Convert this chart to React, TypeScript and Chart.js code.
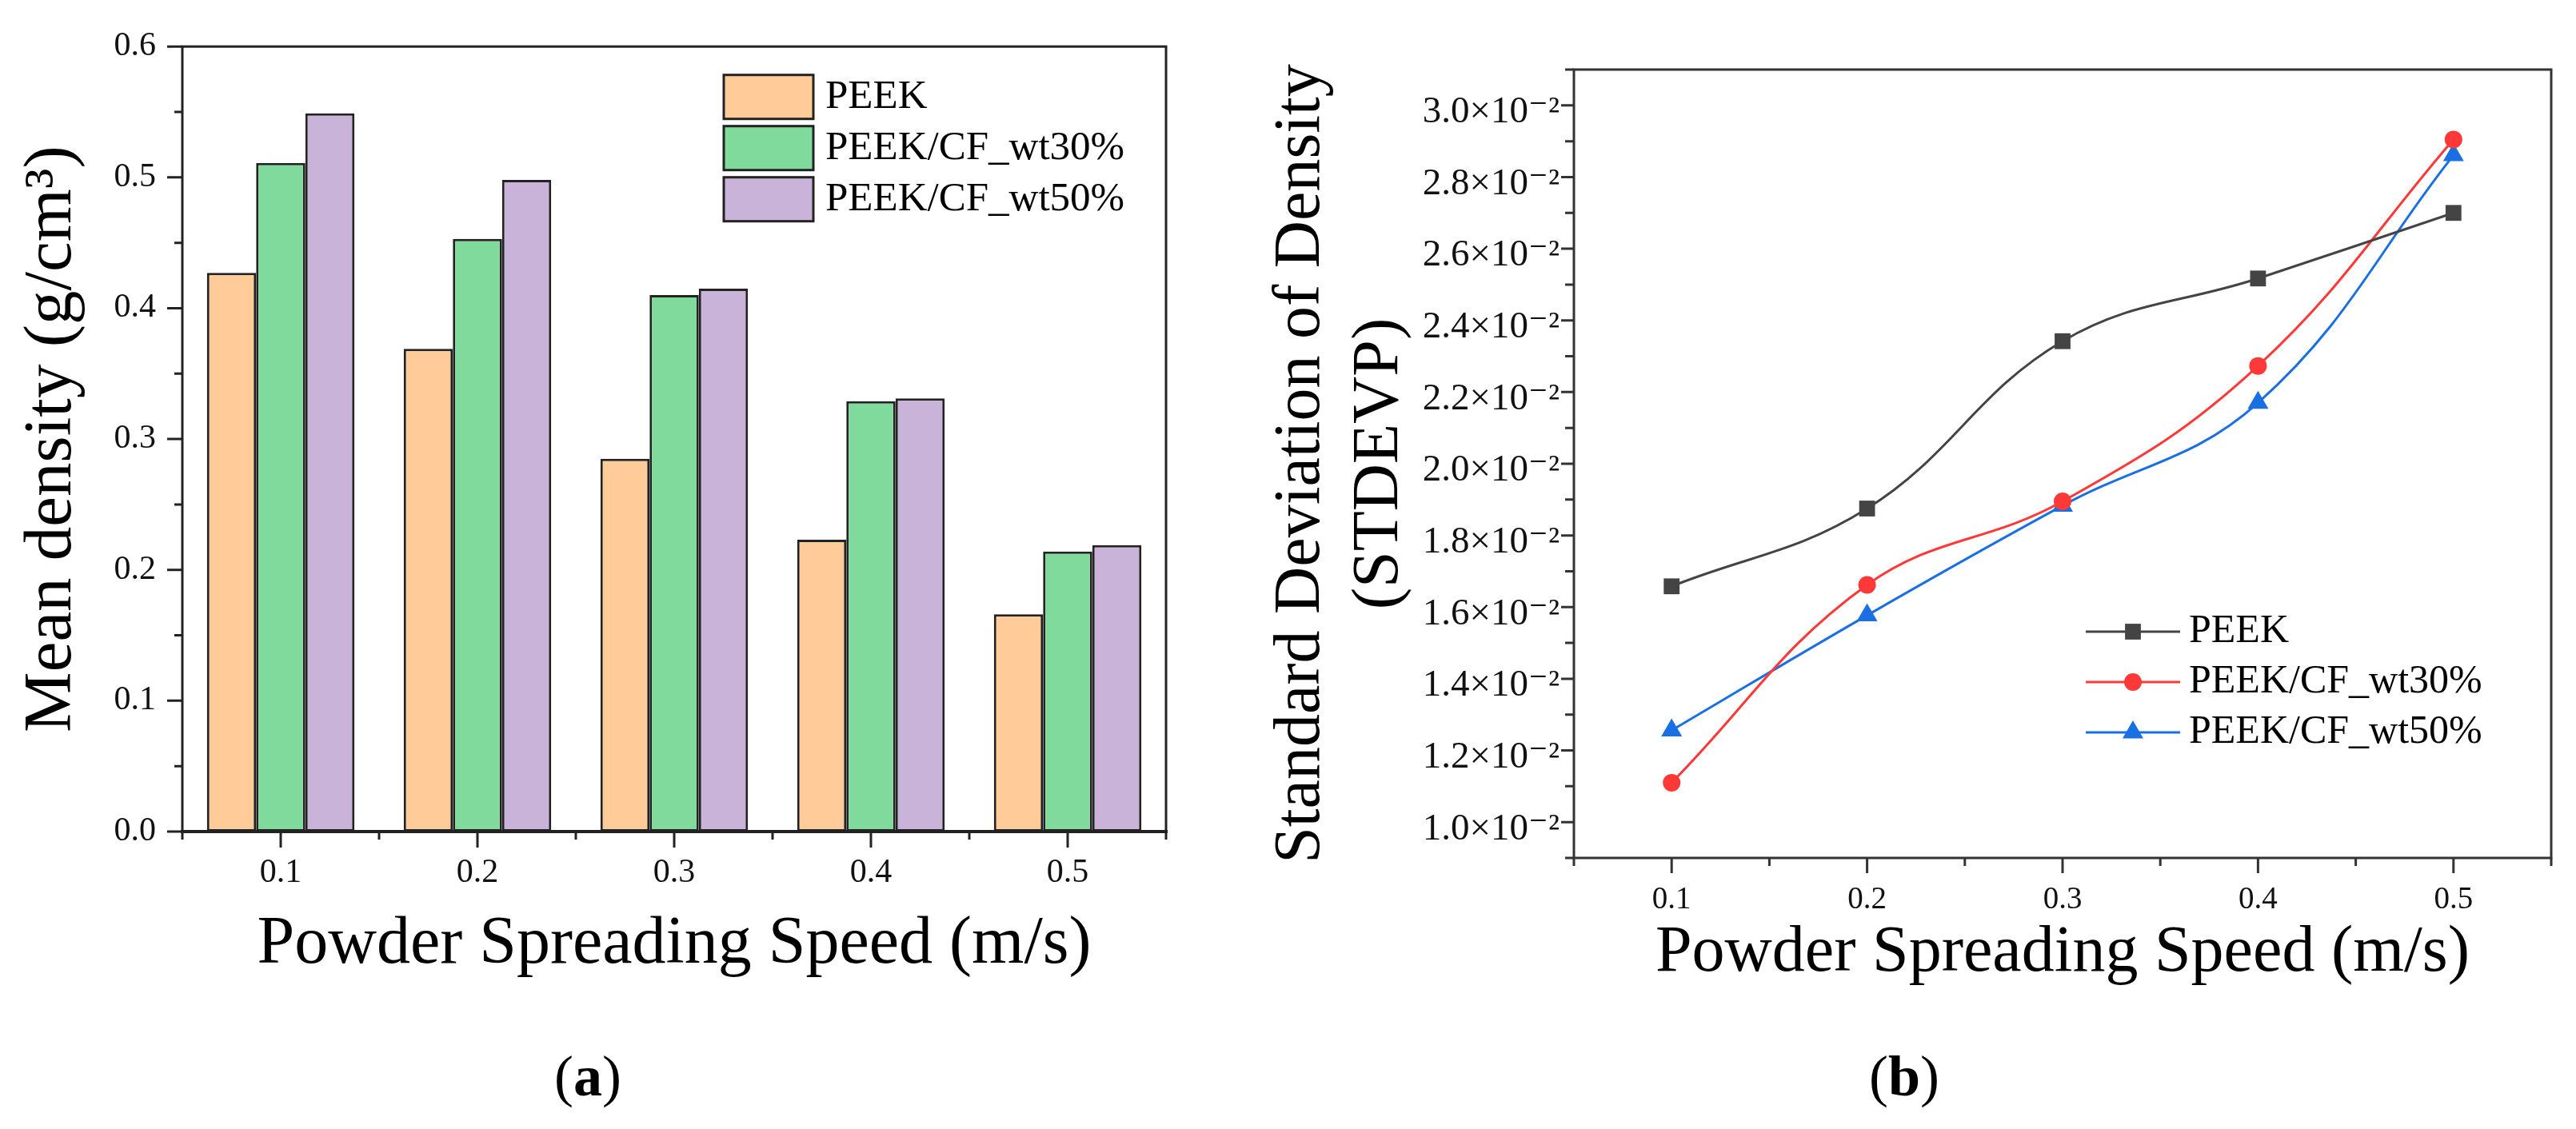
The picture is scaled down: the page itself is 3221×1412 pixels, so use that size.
import React, { useEffect, useRef } from 'react';
import { Chart, registerables } from 'chart.js';

Chart.register(...registerables);

const FONT = "'Liberation Serif', 'Times New Roman', 'DejaVu Serif', serif";

// ---------- Panel (a): mean density bars ----------
const SPEED_LABELS = ['0.1', '0.2', '0.3', '0.4', '0.5'];
const SERIES_NAMES = ['PEEK', 'PEEK/CF_wt30%', 'PEEK/CF_wt50%'];
const MEAN_PEEK = [0.427, 0.369, 0.285, 0.223, 0.166];
const MEAN_CF30 = [0.511, 0.453, 0.410, 0.329, 0.214];
const MEAN_CF50 = [0.549, 0.498, 0.415, 0.331, 0.219];
const MEAN_Y_TICKS = [0, 0.1, 0.2, 0.3, 0.4, 0.5, 0.6];

// ---------- Panel (b): standard deviation lines ----------
const SPEEDS = [0.1, 0.2, 0.3, 0.4, 0.5];
const STD_PEEK = [0.01658, 0.01875, 0.02342, 0.02517, 0.027];
const STD_CF30 = [0.0111, 0.01662, 0.01895, 0.02273, 0.02905];
const STD_CF50 = [0.01256, 0.01577, 0.01883, 0.0217, 0.02861];
const STD_Y_TICKS = [0.01, 0.012, 0.014, 0.016, 0.018, 0.02, 0.022, 0.024, 0.026, 0.028, 0.03];
const STD_X_TICKS = [0.1, 0.2, 0.3, 0.4, 0.5];

const BAR_COLORS = ['#FFCC99', '#80DA9B', '#C9B3D8'];
const LINE_COLORS = ['#444444', '#FF3838', '#1A6FE3'];
const LINE_MARKERS = ['rect', 'circle', 'triangle'];
const LINE_MARKER_RADII = [14, 11, 15];

function minorsBetween(major: number[], lo: number, hi: number): number[] {
  const out: number[] = [];
  if (major.length < 2) return out;
  const step = major[1] - major[0];
  const eps = step * 1e-6;
  const first = major[0] - step / 2;
  if (first >= lo - eps) out.push(first);
  for (let i = 0; i < major.length - 1; i++) out.push((major[i] + major[i + 1]) / 2);
  const last = major[major.length - 1] + step / 2;
  if (last <= hi + eps) out.push(last);
  return out;
}

const axisFramePlugin = {
  id: 'axisFrame',
  afterDatasetsDraw(chart: any, _args: any, o: any) {
    const { ctx, chartArea: a, scales } = chart;
    const xs = scales.x;
    const ys = scales.y;
    ctx.save();
    ctx.strokeStyle = o.color;
    ctx.lineCap = 'square';
    ctx.lineWidth = o.lineWidth;
    ctx.strokeRect(a.left, a.top, a.right - a.left, a.bottom - a.top);
    if (o.bottomWidth) {
      ctx.lineWidth = o.bottomWidth;
      ctx.beginPath();
      ctx.moveTo(a.left, a.bottom);
      ctx.lineTo(a.right, a.bottom);
      ctx.stroke();
    }
    ctx.lineCap = 'butt';
    ctx.lineWidth = o.tickWidth;
    ctx.beginPath();
    const yMajor = ys.ticks.map((t: any) => t.value);
    for (const v of yMajor) {
      const p = ys.getPixelForValue(v);
      ctx.moveTo(a.left, p);
      ctx.lineTo(a.left - o.yMajor, p);
    }
    for (const v of minorsBetween(yMajor, ys.min, ys.max)) {
      const p = ys.getPixelForValue(v);
      ctx.moveTo(a.left, p);
      ctx.lineTo(a.left - o.yMinor, p);
    }
    let xMajorPx: number[] = [];
    let xMinorPx: number[] = [];
    if (xs.type === 'category') {
      const n = chart.data.labels.length;
      for (let i = 0; i < n; i++) xMajorPx.push(xs.getPixelForValue(i));
      const w = n > 1 ? xMajorPx[1] - xMajorPx[0] : a.right - a.left;
      xMinorPx = [xMajorPx[0] - w / 2, ...xMajorPx.map((p) => p + w / 2)];
    } else {
      const xMajor = xs.ticks.map((t: any) => t.value);
      xMajorPx = xMajor.map((v: number) => xs.getPixelForValue(v));
      xMinorPx = minorsBetween(xMajor, xs.min, xs.max).map((v) => xs.getPixelForValue(v));
    }
    for (const p of xMajorPx) {
      ctx.moveTo(p, a.bottom);
      ctx.lineTo(p, a.bottom + o.xMajor);
    }
    for (const p of xMinorPx) {
      ctx.moveTo(p, a.bottom);
      ctx.lineTo(p, a.bottom + o.xMinor);
    }
    ctx.stroke();
    ctx.restore();
  },
};

function drawMarker(ctx: CanvasRenderingContext2D, style: string, x: number, y: number, r: number, color: string) {
  ctx.fillStyle = color;
  ctx.beginPath();
  if (style === 'rect') {
    const s = r * Math.SQRT1_2;
    ctx.rect(x - s, y - s, 2 * s, 2 * s);
  } else if (style === 'triangle') {
    ctx.moveTo(x, y - r);
    ctx.lineTo(x + 0.866 * r, y + 0.5 * r);
    ctx.lineTo(x - 0.866 * r, y + 0.5 * r);
    ctx.closePath();
  } else {
    ctx.arc(x, y, r, 0, Math.PI * 2);
  }
  ctx.fill();
}

const insetLegendPlugin = {
  id: 'insetLegend',
  afterDraw(chart: any, _args: any, o: any) {
    const { ctx, chartArea: a } = chart;
    ctx.save();
    ctx.font = `${o.fontSize}px ${FONT}`;
    ctx.textBaseline = 'middle';
    ctx.textAlign = 'left';
    chart.data.datasets.forEach((ds: any, i: number) => {
      const cy = a.top + o.top + i * o.rowGap;
      const x0 = a.left + o.left;
      if (o.kind === 'box') {
        ctx.fillStyle = ds.backgroundColor;
        ctx.fillRect(x0, cy - o.boxH / 2, o.boxW, o.boxH);
        ctx.strokeStyle = ds.borderColor;
        ctx.lineWidth = ds.borderWidth;
        ctx.strokeRect(x0, cy - o.boxH / 2, o.boxW, o.boxH);
      } else {
        ctx.strokeStyle = ds.borderColor;
        ctx.lineWidth = ds.borderWidth;
        ctx.beginPath();
        ctx.moveTo(x0, cy);
        ctx.lineTo(x0 + o.boxW, cy);
        ctx.stroke();
        drawMarker(ctx, ds.pointStyle, x0 + o.boxW / 2, cy, ds.pointRadius, ds.pointBackgroundColor);
      }
      ctx.fillStyle = '#000';
      ctx.fillText(ds.label, x0 + o.boxW + o.gap, cy);
    });
    ctx.restore();
  },
};

function barConfig(): any {
  const series = [MEAN_PEEK, MEAN_CF30, MEAN_CF50];
  return {
    type: 'bar',
    data: {
      labels: SPEED_LABELS,
      datasets: series.map((vals, i) => ({
        label: SERIES_NAMES[i],
        data: vals,
        backgroundColor: BAR_COLORS[i],
        borderColor: '#222222',
        borderWidth: 3,
        borderSkipped: false,
        categoryPercentage: 0.75,
        barPercentage: 1.0,
      })),
    },
    options: {
      responsive: true,
      maintainAspectRatio: false,
      animation: false,
      events: [],
      layout: { padding: { left: 0, top: 47, right: 42, bottom: 60 } },
      scales: {
        x: {
          grid: { display: false, drawTicks: false },
          border: { display: false },
          ticks: { font: { family: FONT, size: 42 }, color: '#111', padding: 27, maxRotation: 0 },
          title: {
            display: true,
            text: 'Powder Spreading Speed (m/s)',
            font: { family: FONT, size: 84, lineHeight: 1 },
            color: '#000',
            padding: { top: 0, bottom: 16 },
          },
          afterFit: (s: any) => { s.height = 200; },
        },
        y: {
          min: 0,
          max: 0.6,
          grid: { display: false, drawTicks: false },
          border: { display: false },
          afterBuildTicks: (s: any) => { s.ticks = MEAN_Y_TICKS.map((v) => ({ value: v })); },
          ticks: {
            font: { family: FONT, size: 42 },
            color: '#111',
            padding: 33,
            callback: (v: any) => Number(v).toFixed(1),
          },
          title: {
            display: true,
            text: 'Mean density (g/cm³)',
            font: { family: FONT, size: 85, lineHeight: 1 },
            color: '#000',
            padding: { top: 23, bottom: 0 },
          },
          afterFit: (s: any) => { s.width = 228; },
        },
      },
      plugins: {
        legend: { display: false },
        tooltip: { enabled: false },
        axisFrame: { color: '#222', lineWidth: 3, bottomWidth: 4, tickWidth: 3, yMajor: 19, yMinor: 10, xMajor: 20, xMinor: 10 },
        insetLegend: { kind: 'box', left: 677, top: 63, rowGap: 64, boxW: 112, boxH: 55, gap: 15, fontSize: 51 },
      },
    },
    plugins: [axisFramePlugin, insetLegendPlugin],
  };
}

function lineConfig(): any {
  const series = [STD_PEEK, STD_CF30, STD_CF50];
  return {
    type: 'line',
    data: {
      datasets: series.map((vals, i) => ({
        label: SERIES_NAMES[i],
        data: SPEEDS.map((s, j) => ({ x: s, y: vals[j] })),
        borderColor: LINE_COLORS[i],
        backgroundColor: LINE_COLORS[i],
        pointBackgroundColor: LINE_COLORS[i],
        pointBorderColor: LINE_COLORS[i],
        pointBorderWidth: 0,
        pointStyle: LINE_MARKERS[i],
        pointRadius: LINE_MARKER_RADII[i],
        borderWidth: 3,
        tension: 0.4,
        fill: false,
      })),
    },
    options: {
      responsive: true,
      maintainAspectRatio: false,
      animation: false,
      events: [],
      layout: { padding: { left: 0, top: 87, right: 31, bottom: 27 } },
      scales: {
        x: {
          type: 'linear',
          min: 0.05,
          max: 0.55,
          grid: { display: false, drawTicks: false },
          border: { display: false },
          afterBuildTicks: (s: any) => { s.ticks = STD_X_TICKS.map((v) => ({ value: v })); },
          ticks: {
            font: { family: FONT, size: 39 },
            color: '#111',
            padding: 29,
            maxRotation: 0,
            callback: (v: any) => Number(v).toFixed(1),
          },
          title: {
            display: true,
            text: 'Powder Spreading Speed (m/s)',
            font: { family: FONT, size: 82, lineHeight: 1 },
            color: '#000',
            padding: { top: 0, bottom: 40 },
          },
          afterFit: (s: any) => { s.height = 200; },
        },
        y: {
          type: 'linear',
          min: 0.009,
          max: 0.031,
          grid: { display: false, drawTicks: false },
          border: { display: false },
          afterBuildTicks: (s: any) => { s.ticks = STD_Y_TICKS.map((v) => ({ value: v })); },
          ticks: {
            font: { family: FONT, size: 47 },
            color: '#111',
            padding: 18,
            labelOffset: 9,
            callback: (v: any) => (Number(v) * 100).toFixed(1) + '×10⁻²',
          },
          title: {
            display: true,
            text: ['Standard Deviation of Density', '(STDEVP)'],
            font: { family: FONT, size: 82, lineHeight: 1.2 },
            color: '#000',
            padding: { top: 18, bottom: 0 },
          },
          afterFit: (s: any) => { s.width = 408; },
        },
      },
      plugins: {
        legend: { display: false },
        tooltip: { enabled: false },
        axisFrame: { color: '#333', lineWidth: 3, tickWidth: 3, yMajor: 16, yMinor: 11, xMajor: 19, xMinor: 10 },
        insetLegend: { kind: 'line', left: 640, top: 703, rowGap: 63, boxW: 118, gap: 11, fontSize: 50 },
      },
    },
    plugins: [axisFramePlugin, insetLegendPlugin],
  };
}

function ChartBox({ make, box }: { make: () => any; box: React.CSSProperties }) {
  const ref = useRef<HTMLCanvasElement | null>(null);
  useEffect(() => {
    if (!ref.current) return;
    const chart = new Chart(ref.current, make());
    return () => chart.destroy();
  }, [make]);
  return (
    <div style={{ position: 'absolute', ...box }}>
      <canvas ref={ref} />
    </div>
  );
}

const captionStyle: React.CSSProperties = {
  position: 'absolute',
  width: 400,
  height: 72,
  lineHeight: '72px',
  fontSize: 72,
  fontFamily: FONT,
  textAlign: 'center',
  color: '#000',
};

export default function App() {
  return (
    <div
      style={{
        position: 'fixed',
        left: 0,
        top: 0,
        width: 3221,
        height: 1412,
        background: '#fff',
        overflow: 'hidden',
      }}
    >
      <ChartBox make={barConfig} box={{ left: 0, top: 0, width: 1500, height: 1300 }} />
      <ChartBox make={lineConfig} box={{ left: 1560, top: 0, width: 1661, height: 1300 }} />
      <div style={{ ...captionStyle, left: 735 - 200, top: 1310 }}>
        (<b>a</b>)
      </div>
      <div style={{ ...captionStyle, left: 2381 - 200, top: 1310 }}>
        (<b>b</b>)
      </div>
    </div>
  );
}
